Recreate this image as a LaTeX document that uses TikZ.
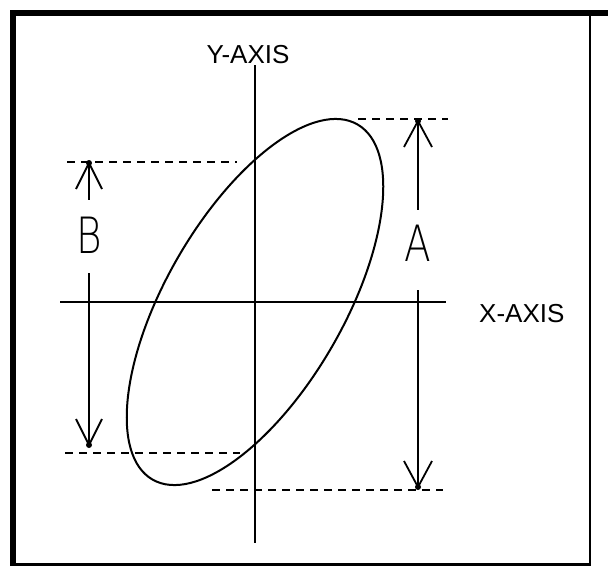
\documentclass[tikz,border=0pt]{standalone}
\usepackage{fontspec}
\setmainfont{Liberation Sans}
\newfontfamily\thinfont{DejaVu Sans ExtraLight}
\usetikzlibrary{positioning}

\begin{document}
\begin{tikzpicture}[x=1pt, y=-1pt,
  axis/.style={line width=2pt},
  guide/.style={line width=2pt, dash pattern=on 8pt off 6pt},
  dim/.style={line width=2pt},
  wing/.style={line width=1.8pt},
  tipdot/.style={circle, fill, inner sep=0pt, minimum size=6pt},
  axislabel/.style={font=\fontsize{26}{26}\selectfont, inner sep=0pt},
  letter/.style={font=\thinfont\fontsize{50}{50}\selectfont, inner sep=0pt, xscale=0.78}]

  \useasboundingbox (0,0) rectangle (608,566);

  % frame
  \fill (10,10) rectangle (608,16);
  \fill (10,10) rectangle (16,566);
  \draw[line width=2pt] (590,16) -- (590,565);
  \draw[line width=2.5pt] (16,564.5) -- (591,564.5);

  % axes
  \coordinate (o) at (255,302);
  \coordinate (ytop) at (255,65);
  \coordinate (ybot) at (255,543);
  \coordinate (xleft) at (60,302);
  \coordinate (xright) at (446,302);
  \draw[axis] (ytop) -- (ybot);
  \draw[axis] (xleft) -- (xright);
  \node[axislabel, anchor=base] (ylab) at (248,63) {Y-AXIS};
  \node[axislabel, anchor=west] (xlab) at (479,314) {X-AXIS};

  % ellipse
  \draw[line width=2pt, rotate around={60:(o)}] (o) ellipse [x radius=205pt, y radius=89pt];

  % guide lines
  \coordinate (gA1) at (358,119);
  \coordinate (gA2) at (448,119);
  \coordinate (gA3) at (212,490);
  \coordinate (gA4) at (443,490);
  \coordinate (gB1) at (67,162);
  \coordinate (gB2) at (237,162);
  \coordinate (gB3) at (65,453);
  \coordinate (gB4) at (240,453);
  \draw[guide] (gA1) -- (gA2);
  \draw[guide] (gA3) -- (gA4);
  \draw[guide] (gB1) -- (gB2);
  \draw[guide] (gB3) -- (gB4);

  % dimension A
  \node[tipdot] (aT) at (418,121) {};
  \node[tipdot] (aB) at (418,487) {};
  \node[letter] (A) at (418,243) {A};
  \draw[dim] (aT.center) -- (418,210);
  \draw[dim] (418,290) -- (aB.center);
  \draw[wing] (aT.center) -- ++(-14,26);
  \draw[wing] (aT.center) -- ++(14,26);
  \draw[wing] (aB.center) -- ++(-14,-26);
  \draw[wing] (aB.center) -- ++(14,-26);

  % dimension B
  \node[tipdot] (bT) at (89,163) {};
  \node[tipdot] (bB) at (89,445) {};
  \node[letter] (B) at (89,235) {B};
  \draw[dim] (bT.center) -- (89,200);
  \draw[dim] (89,273) -- (bB.center);
  \draw[wing] (bT.center) -- ++(-13,26);
  \draw[wing] (bT.center) -- ++(13,26);
  \draw[wing] (bB.center) -- ++(-13,-26);
  \draw[wing] (bB.center) -- ++(13,-26);
\end{tikzpicture}
\end{document}
